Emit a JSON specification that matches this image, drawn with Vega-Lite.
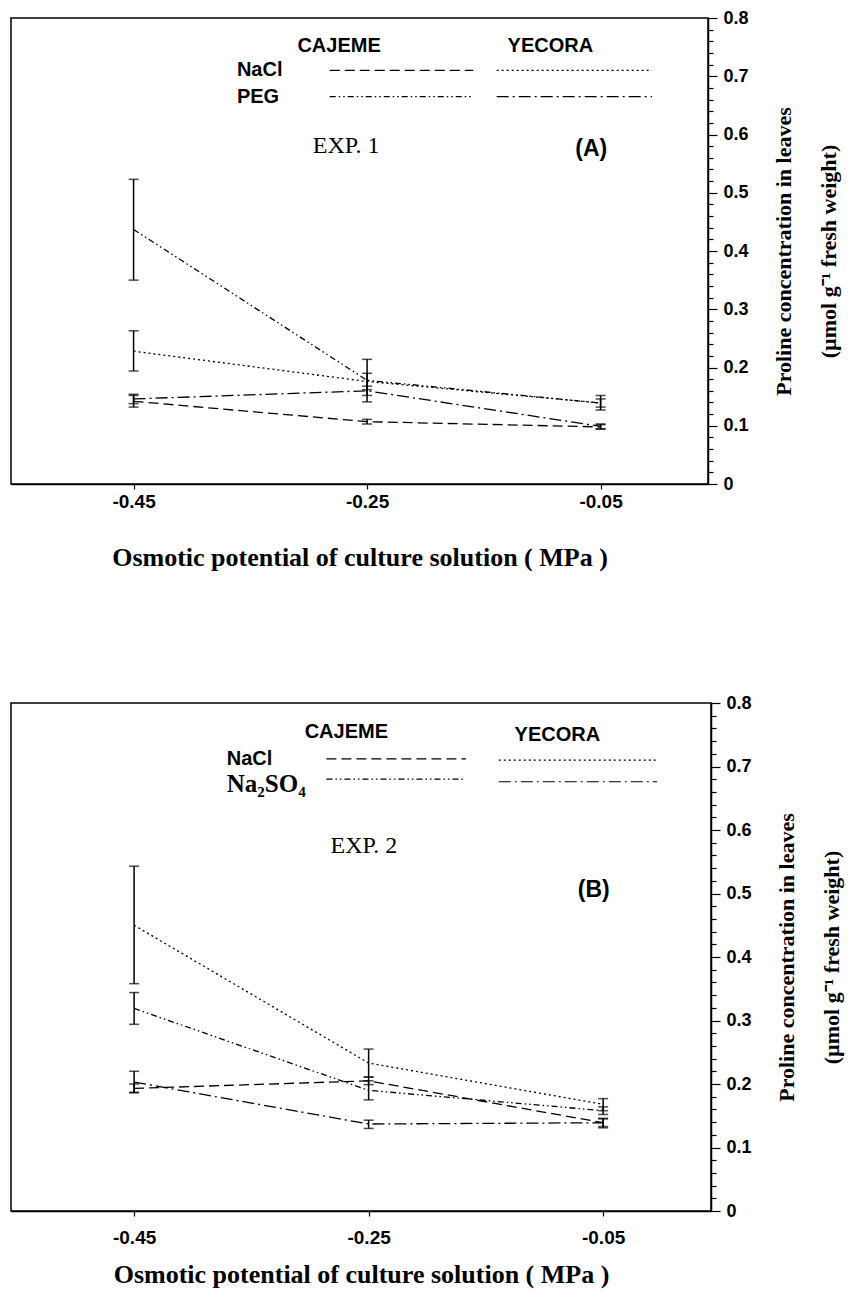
{
  "$schema": "https://vega.github.io/schema/vega-lite/v6.json",
  "background": "white",
  "padding": {"top": 8, "left": 10, "right": 5, "bottom": 5},
  "spacing": 122,
  "config": {
    "view": {"stroke": "black", "strokeWidth": 1.5},
    "axis": {"domainColor": "black", "domainWidth": 1.5, "tickColor": "black", "tickWidth": 1.2, "labelColor": "black", "titleColor": "black", "grid": false}
  },
  "datasets": {
    "proline": [
      {"panel": "A", "series": "CAJEME NaCl", "x": -0.45, "y": 0.142, "lo": 0.132, "hi": 0.152},
      {"panel": "A", "series": "CAJEME NaCl", "x": -0.25, "y": 0.107, "lo": 0.103, "hi": 0.111},
      {"panel": "A", "series": "CAJEME NaCl", "x": -0.05, "y": 0.098, "lo": 0.094, "hi": 0.102},
      {"panel": "A", "series": "YECORA NaCl", "x": -0.45, "y": 0.228, "lo": 0.194, "hi": 0.263},
      {"panel": "A", "series": "YECORA NaCl", "x": -0.25, "y": 0.176, "lo": 0.162, "hi": 0.19},
      {"panel": "A", "series": "YECORA NaCl", "x": -0.05, "y": 0.139, "lo": 0.127, "hi": 0.152},
      {"panel": "A", "series": "CAJEME PEG", "x": -0.45, "y": 0.437, "lo": 0.35, "hi": 0.523},
      {"panel": "A", "series": "CAJEME PEG", "x": -0.25, "y": 0.178, "lo": 0.141, "hi": 0.214},
      {"panel": "A", "series": "CAJEME PEG", "x": -0.05, "y": 0.139, "lo": 0.132, "hi": 0.146},
      {"panel": "A", "series": "YECORA PEG", "x": -0.45, "y": 0.146, "lo": 0.138, "hi": 0.154},
      {"panel": "A", "series": "YECORA PEG", "x": -0.25, "y": 0.16, "lo": 0.152, "hi": 0.168},
      {"panel": "A", "series": "YECORA PEG", "x": -0.05, "y": 0.099, "lo": 0.095, "hi": 0.103},
      {"panel": "B", "series": "CAJEME NaCl", "x": -0.45, "y": 0.193, "lo": 0.186, "hi": 0.2},
      {"panel": "B", "series": "CAJEME NaCl", "x": -0.25, "y": 0.205, "lo": 0.199, "hi": 0.211},
      {"panel": "B", "series": "CAJEME NaCl", "x": -0.05, "y": 0.139, "lo": 0.133, "hi": 0.145},
      {"panel": "B", "series": "YECORA NaCl", "x": -0.45, "y": 0.45, "lo": 0.358, "hi": 0.543},
      {"panel": "B", "series": "YECORA NaCl", "x": -0.25, "y": 0.233, "lo": 0.211, "hi": 0.255},
      {"panel": "B", "series": "YECORA NaCl", "x": -0.05, "y": 0.168, "lo": 0.158, "hi": 0.177},
      {"panel": "B", "series": "CAJEME Na2SO4", "x": -0.45, "y": 0.319, "lo": 0.294, "hi": 0.344},
      {"panel": "B", "series": "CAJEME Na2SO4", "x": -0.25, "y": 0.19, "lo": 0.175, "hi": 0.205},
      {"panel": "B", "series": "CAJEME Na2SO4", "x": -0.05, "y": 0.158, "lo": 0.152, "hi": 0.164},
      {"panel": "B", "series": "YECORA Na2SO4", "x": -0.45, "y": 0.203, "lo": 0.187, "hi": 0.22},
      {"panel": "B", "series": "YECORA Na2SO4", "x": -0.25, "y": 0.137, "lo": 0.13, "hi": 0.143},
      {"panel": "B", "series": "YECORA Na2SO4", "x": -0.05, "y": 0.139, "lo": 0.131, "hi": 0.146}
    ]
  },
  "vconcat": [
    {
      "width": 697,
      "height": 466,
      "resolve": {"axis": {"x": "independent", "y": "independent"}},
      "layer": [
        {
          "data": {"name": "proline"},
          "transform": [{"filter": "datum.panel == 'A'"}],
          "mark": {"type": "line", "color": "black", "strokeWidth": 1.3},
          "encoding": {
            "x": {"field": "x", "type": "quantitative", "scale": {"domain": [-0.555, 0.042], "nice": false, "zero": false},
              "axis": {"values": [-0.45, -0.25, -0.05], "format": ".2f", "labelExpr": "replace(datum.label, '−', '-')", "tickSize": 5, "labelPadding": 3, "labelFont": "Liberation Sans", "labelFontWeight": "bold", "labelFontSize": 19, "title": "Osmotic potential of culture solution ( MPa )", "titleFont": "Liberation Serif", "titleFontWeight": "bold", "titleFontSize": 26, "titlePadding": 33}},
            "y": {"field": "y", "type": "quantitative", "scale": {"domain": [0, 0.8], "nice": false},
              "axis": {"orient": "right", "values": [0,0.02,0.04,0.06,0.08,0.1,0.12,0.14,0.16,0.18,0.2,0.22,0.24,0.26,0.28,0.3,0.32,0.34,0.36,0.38,0.4,0.42,0.44,0.46,0.48,0.5,0.52,0.54,0.56,0.58,0.6,0.62,0.64,0.66,0.68,0.7,0.72,0.74,0.76,0.78,0.8],
                "labelExpr": "abs(datum.value*10 - round(datum.value*10)) < 0.001 ? format(datum.value, '.1~f') : ''",
                "tickSize": {"condition": {"test": "abs(datum.value*10 - round(datum.value*10)) < 0.001", "value": 9}, "value": 5},
                "labelOverlap": false, "labelFlush": false, "labelPadding": 6, "labelFont": "Liberation Sans", "labelFontWeight": "bold", "labelFontSize": 18,
                "title": ["Proline concentration in leaves", "(µmol g⁻¹ fresh weight)"], "titleFont": "Liberation Serif", "titleFontWeight": "bold", "titleFontSize": 22, "titleAngle": 270, "titlePadding": 2, "titleLineHeight": 45}},
            "strokeDash": {"field": "series", "type": "nominal", "legend": null,
              "scale": {"domain": ["CAJEME NaCl", "YECORA NaCl", "CAJEME PEG", "YECORA PEG", "CAJEME Na2SO4", "YECORA Na2SO4"],
                "range": [[10, 5], [2, 3], [6, 3, 1.5, 3, 1.5, 3], [12, 4, 2, 4], [6, 3, 1.5, 3, 1.5, 3], [12, 4, 2, 4]]}}
          }
        },
        {
          "data": {"name": "proline"},
          "transform": [{"filter": "datum.panel == 'A'"}],
          "mark": {"type": "rule", "color": "black", "strokeWidth": 1.5},
          "encoding": {
            "x": {"field": "x", "type": "quantitative", "axis": null},
            "y": {"field": "lo", "type": "quantitative", "axis": null},
            "y2": {"field": "hi"}
          }
        },
        {
          "data": {"name": "proline"},
          "transform": [{"filter": "datum.panel == 'A'"}],
          "mark": {"type": "tick", "color": "black", "orient": "horizontal", "size": 10, "thickness": 1.5},
          "encoding": {
            "x": {"field": "x", "type": "quantitative", "axis": null},
            "y": {"field": "lo", "type": "quantitative", "axis": null}
          }
        },
        {
          "data": {"name": "proline"},
          "transform": [{"filter": "datum.panel == 'A'"}],
          "mark": {"type": "tick", "color": "black", "orient": "horizontal", "size": 10, "thickness": 1.5},
          "encoding": {
            "x": {"field": "x", "type": "quantitative", "axis": null},
            "y": {"field": "hi", "type": "quantitative", "axis": null}
          }
        },
        {"data": {"values": [{}]}, "mark": {"type": "text", "font": "Liberation Sans", "fontWeight": "bold", "fontSize": 20, "align": "center", "baseline": "middle", "color": "black"},
          "encoding": {"x": {"datum": -0.274, "axis": null}, "y": {"datum": 0.752, "axis": null}, "text": {"value": "CAJEME"}}},
        {"data": {"values": [{}]}, "mark": {"type": "text", "font": "Liberation Sans", "fontWeight": "bold", "fontSize": 20, "align": "center", "baseline": "middle", "color": "black"},
          "encoding": {"x": {"datum": -0.093, "axis": null}, "y": {"datum": 0.752, "axis": null}, "text": {"value": "YECORA"}}},
        {"data": {"values": [{}]}, "mark": {"type": "text", "font": "Liberation Sans", "fontWeight": "bold", "fontSize": 20, "align": "left", "baseline": "middle", "color": "black"},
          "encoding": {"x": {"datum": -0.3615, "axis": null}, "y": {"datum": 0.71, "axis": null}, "text": {"value": "NaCl"}}},
        {"data": {"values": [{}]}, "mark": {"type": "text", "font": "Liberation Sans", "fontWeight": "bold", "fontSize": 20, "align": "left", "baseline": "middle", "color": "black"},
          "encoding": {"x": {"datum": -0.3615, "axis": null}, "y": {"datum": 0.665, "axis": null}, "text": {"value": "PEG"}}},
        {"data": {"values": [{}]}, "mark": {"type": "rule", "color": "black", "strokeWidth": 1.2, "strokeDash": [10, 5]},
          "encoding": {"x": {"datum": -0.282, "axis": null}, "x2": {"datum": -0.159}, "y": {"datum": 0.71, "axis": null}}},
        {"data": {"values": [{}]}, "mark": {"type": "rule", "color": "black", "strokeWidth": 1.2, "strokeDash": [2, 3]},
          "encoding": {"x": {"datum": -0.139, "axis": null}, "x2": {"datum": -0.006}, "y": {"datum": 0.71, "axis": null}}},
        {"data": {"values": [{}]}, "mark": {"type": "rule", "color": "black", "strokeWidth": 1.2, "strokeDash": [6, 3, 1.5, 3, 1.5, 3]},
          "encoding": {"x": {"datum": -0.282, "axis": null}, "x2": {"datum": -0.159}, "y": {"datum": 0.665, "axis": null}}},
        {"data": {"values": [{}]}, "mark": {"type": "rule", "color": "black", "strokeWidth": 1.2, "strokeDash": [12, 4, 2, 4]},
          "encoding": {"x": {"datum": -0.139, "axis": null}, "x2": {"datum": -0.006}, "y": {"datum": 0.665, "axis": null}}},
        {"data": {"values": [{}]}, "mark": {"type": "text", "font": "Liberation Serif", "fontSize": 24, "align": "center", "baseline": "middle", "color": "black"},
          "encoding": {"x": {"datum": -0.268, "axis": null}, "y": {"datum": 0.58, "axis": null}, "text": {"value": "EXP. 1"}}},
        {"data": {"values": [{}]}, "mark": {"type": "text", "font": "Liberation Sans", "fontWeight": "bold", "fontSize": 23, "align": "center", "baseline": "middle", "color": "black"},
          "encoding": {"x": {"datum": -0.058, "axis": null}, "y": {"datum": 0.575, "axis": null}, "text": {"value": "(A)"}}}
      ]
    },
    {
      "width": 700,
      "height": 508,
      "resolve": {"axis": {"x": "independent", "y": "independent"}},
      "layer": [
        {
          "data": {"name": "proline"},
          "transform": [{"filter": "datum.panel == 'B'"}],
          "mark": {"type": "line", "color": "black", "strokeWidth": 1.3},
          "encoding": {
            "x": {"field": "x", "type": "quantitative", "scale": {"domain": [-0.555, 0.042], "nice": false, "zero": false},
              "axis": {"values": [-0.45, -0.25, -0.05], "format": ".2f", "labelExpr": "replace(datum.label, '−', '-')", "tickSize": 5, "labelPadding": 12, "labelFont": "Liberation Sans", "labelFontWeight": "bold", "labelFontSize": 19, "title": "Osmotic potential of culture solution ( MPa )", "titleFont": "Liberation Serif", "titleFontWeight": "bold", "titleFontSize": 26, "titlePadding": 14}},
            "y": {"field": "y", "type": "quantitative", "scale": {"domain": [0, 0.8], "nice": false},
              "axis": {"orient": "right", "values": [0,0.02,0.04,0.06,0.08,0.1,0.12,0.14,0.16,0.18,0.2,0.22,0.24,0.26,0.28,0.3,0.32,0.34,0.36,0.38,0.4,0.42,0.44,0.46,0.48,0.5,0.52,0.54,0.56,0.58,0.6,0.62,0.64,0.66,0.68,0.7,0.72,0.74,0.76,0.78,0.8],
                "labelExpr": "abs(datum.value*10 - round(datum.value*10)) < 0.001 ? format(datum.value, '.1~f') : ''",
                "tickSize": {"condition": {"test": "abs(datum.value*10 - round(datum.value*10)) < 0.001", "value": 9}, "value": 5},
                "labelOverlap": false, "labelFlush": false, "labelPadding": 6, "labelFont": "Liberation Sans", "labelFontWeight": "bold", "labelFontSize": 18,
                "title": ["Proline concentration in leaves", "(µmol g⁻¹ fresh weight)"], "titleFont": "Liberation Serif", "titleFontWeight": "bold", "titleFontSize": 22, "titleAngle": 270, "titlePadding": 2, "titleLineHeight": 45}},
            "strokeDash": {"field": "series", "type": "nominal", "legend": null,
              "scale": {"domain": ["CAJEME NaCl", "YECORA NaCl", "CAJEME PEG", "YECORA PEG", "CAJEME Na2SO4", "YECORA Na2SO4"],
                "range": [[10, 5], [2, 3], [6, 3, 1.5, 3, 1.5, 3], [12, 4, 2, 4], [6, 3, 1.5, 3, 1.5, 3], [12, 4, 2, 4]]}}
          }
        },
        {
          "data": {"name": "proline"},
          "transform": [{"filter": "datum.panel == 'B'"}],
          "mark": {"type": "rule", "color": "black", "strokeWidth": 1.5},
          "encoding": {
            "x": {"field": "x", "type": "quantitative", "axis": null},
            "y": {"field": "lo", "type": "quantitative", "axis": null},
            "y2": {"field": "hi"}
          }
        },
        {
          "data": {"name": "proline"},
          "transform": [{"filter": "datum.panel == 'B'"}],
          "mark": {"type": "tick", "color": "black", "orient": "horizontal", "size": 10, "thickness": 1.5},
          "encoding": {
            "x": {"field": "x", "type": "quantitative", "axis": null},
            "y": {"field": "lo", "type": "quantitative", "axis": null}
          }
        },
        {
          "data": {"name": "proline"},
          "transform": [{"filter": "datum.panel == 'B'"}],
          "mark": {"type": "tick", "color": "black", "orient": "horizontal", "size": 10, "thickness": 1.5},
          "encoding": {
            "x": {"field": "x", "type": "quantitative", "axis": null},
            "y": {"field": "hi", "type": "quantitative", "axis": null}
          }
        },
        {"data": {"values": [{}]}, "mark": {"type": "text", "font": "Liberation Sans", "fontWeight": "bold", "fontSize": 20, "align": "center", "baseline": "middle", "color": "black"},
          "encoding": {"x": {"datum": -0.269, "axis": null}, "y": {"datum": 0.755, "axis": null}, "text": {"value": "CAJEME"}}},
        {"data": {"values": [{}]}, "mark": {"type": "text", "font": "Liberation Sans", "fontWeight": "bold", "fontSize": 20, "align": "center", "baseline": "middle", "color": "black"},
          "encoding": {"x": {"datum": -0.089, "axis": null}, "y": {"datum": 0.75, "axis": null}, "text": {"value": "YECORA"}}},
        {"data": {"values": [{}]}, "mark": {"type": "text", "font": "Liberation Sans", "fontWeight": "bold", "fontSize": 20, "align": "left", "baseline": "middle", "color": "black"},
          "encoding": {"x": {"datum": -0.371, "axis": null}, "y": {"datum": 0.712, "axis": null}, "text": {"value": "NaCl"}}},
        {"data": {"values": [{}]}, "mark": {"type": "text", "font": "Liberation Serif", "fontWeight": "bold", "fontSize": 25, "align": "left", "baseline": "middle", "color": "black"},
          "encoding": {"x": {"datum": -0.371, "axis": null}, "y": {"datum": 0.672, "axis": null}, "text": {"value": "Na₂SO₄"}}},
        {"data": {"values": [{}]}, "mark": {"type": "rule", "color": "black", "strokeWidth": 1.2, "strokeDash": [10, 5]},
          "encoding": {"x": {"datum": -0.286, "axis": null}, "x2": {"datum": -0.167}, "y": {"datum": 0.712, "axis": null}}},
        {"data": {"values": [{}]}, "mark": {"type": "rule", "color": "black", "strokeWidth": 1.2, "strokeDash": [2, 3]},
          "encoding": {"x": {"datum": -0.139, "axis": null}, "x2": {"datum": -0.004}, "y": {"datum": 0.71, "axis": null}}},
        {"data": {"values": [{}]}, "mark": {"type": "rule", "color": "black", "strokeWidth": 1.2, "strokeDash": [6, 3, 1.5, 3, 1.5, 3]},
          "encoding": {"x": {"datum": -0.286, "axis": null}, "x2": {"datum": -0.167}, "y": {"datum": 0.68, "axis": null}}},
        {"data": {"values": [{}]}, "mark": {"type": "rule", "color": "black", "strokeWidth": 1.2, "strokeDash": [12, 4, 2, 4]},
          "encoding": {"x": {"datum": -0.139, "axis": null}, "x2": {"datum": -0.004}, "y": {"datum": 0.676, "axis": null}}},
        {"data": {"values": [{}]}, "mark": {"type": "text", "font": "Liberation Serif", "fontSize": 24, "align": "center", "baseline": "middle", "color": "black"},
          "encoding": {"x": {"datum": -0.254, "axis": null}, "y": {"datum": 0.575, "axis": null}, "text": {"value": "EXP. 2"}}},
        {"data": {"values": [{}]}, "mark": {"type": "text", "font": "Liberation Sans", "fontWeight": "bold", "fontSize": 23, "align": "center", "baseline": "middle", "color": "black"},
          "encoding": {"x": {"datum": -0.058, "axis": null}, "y": {"datum": 0.505, "axis": null}, "text": {"value": "(B)"}}}
      ]
    }
  ]
}
